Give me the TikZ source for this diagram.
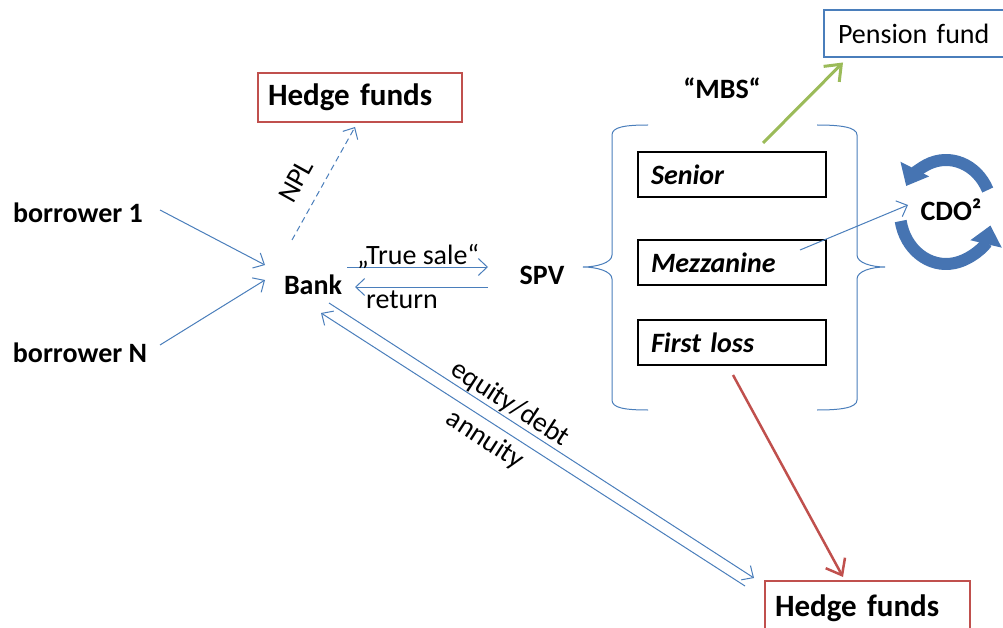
\documentclass[tikz,border=0pt]{standalone}
\usepackage{fontspec}
\setmainfont{Carlito}
\usetikzlibrary{arrows.meta}
\definecolor{lblue}{RGB}{74,126,187}
\definecolor{dred}{RGB}{192,80,77}
\definecolor{lgreen}{RGB}{155,187,89}
\definecolor{cdoblue}{RGB}{70,116,178}
\begin{document}
\begin{tikzpicture}[x=1pt,y=-1pt,
  font=\fontsize{28}{34}\selectfont,
  lbl/.style={inner sep=0pt},
  bold/.style={inner sep=0pt, font=\fontsize{28}{34}\selectfont\bfseries},
  flow/.style={lblue, line width=1pt, -{Straight Barb[length=9pt,width=17pt]}},
  npl/.style={flow, dash pattern=on 6pt off 4pt},
  redbox/.style={draw=dred, line width=2.5pt, inner xsep=10pt, inner ysep=0pt, align=left,
     font=\fontsize{31}{36}\selectfont\bfseries},
  bluebox/.style={draw=lblue, line width=2.5pt, inner xsep=14pt, inner ysep=0pt, align=left},
  tranche/.style={draw=black, line width=2.5pt, minimum width=188pt, minimum height=45pt,
     text width=162pt, inner xsep=13pt, inner ysep=0pt, align=left,
     font=\fontsize{28}{34}\selectfont\bfseries\itshape},
  brace/.style={lblue, line width=1pt},
  bigred/.style={dred, line width=2.5pt, -{Straight Barb[length=14pt,width=22pt]}},
  biggreen/.style={lgreen, line width=3pt, -{Straight Barb[length=14pt,width=22pt]}},
  cdoarrow/.style={cdoblue, line width=12pt, -{Triangle[length=19pt,width=31pt]}}
]
\useasboundingbox (0,0) rectangle (1003,628);
\clip (0,0) rectangle (1003,628);

% nodes
\node[bold] (b1) at (78,213) {borrower 1};
\node[bold] (bN) at (80,353) {borrower N};
\node[bold] (bank) at (313,285) {Bank};
\node[bold] (spv) at (542,275) {SPV};
\node[redbox, minimum width=204pt, minimum height=49pt, text width=184pt] (hf1) at (360,97.5) {Hedge funds};
\node[redbox, minimum width=205pt, minimum height=54pt, text width=185pt] (hf2) at (867.5,608) {Hedge funds};
\node[bluebox, minimum width=191pt, minimum height=47pt, text width=163pt] (pf) at (919.5,33.5) {Pension fund};
\node[bold] (mbs) at (722,88) {“MBS“};
\node[tranche] (sen) at (732,174.5) {Senior};
\node[tranche] (mez) at (732,262.5) {Mezzanine};
\node[tranche] (fl) at (732,342.5) {First loss};
\node[bold] (cdo) at (951,210) {CDO²};

% braces
\draw[brace] (648,125) .. controls (625,125) and (612,127) .. (612,135) -- (612,255)
  .. controls (612,263) and (596,267) .. (583,267)
  .. controls (596,267) and (612,271) .. (612,279) -- (612,400)
  .. controls (612,408) and (625,410) .. (648,410);
\draw[brace] (817,125) .. controls (840,125) and (857,127) .. (857,135) -- (857,255)
  .. controls (857,263) and (872,267) .. (885,267)
  .. controls (872,267) and (857,271) .. (857,279) -- (857,400)
  .. controls (857,408) and (840,410) .. (817,410);

% connectors
\draw[flow] ([shift={(82,-3)}]b1.center) -- ([shift={(-48,-20)}]bank.center);
\draw[flow] ([shift={(80,-8)}]bN.center) -- ([shift={(-48,-5)}]bank.center);
\draw[npl] ([shift={(-21,-45)}]bank.center) -- ([shift={(-5,29.5)}]hf1.center);
\draw[flow] ([shift={(34,-18)}]bank.center) -- ([shift={(-54,-8)}]spv.center);
\draw[flow] ([shift={(-54,12)}]spv.center) -- ([shift={(42,2)}]bank.center);
\draw[flow] ([shift={(16,18)}]bank.center) -- ([shift={(-113.5,-30)}]hf2.center);
\draw[flow] ([shift={(-122.5,-22)}]hf2.center) -- ([shift={(8,28)}]bank.center);
\draw[bigred] ([shift={(1,32.5)}]fl.center) -- ([shift={(-24.5,-31)}]hf2.center);
\draw[biggreen] ([shift={(31,-31.5)}]sen.center) -- ([shift={(-76.5,29)}]pf.center);
\draw[flow] ([shift={(68,-12.5)}]mez.center) -- ([shift={(-43,-5)}]cdo.center);

% labels
\node[lbl, rotate=61] (lnpl) at (296,181) {NPL};
\node[lbl] (ltrue) at (418,257) {„True sale“};
\node[lbl] (lret) at (402,300) {return};
\node[lbl, rotate=-33] (leq) at (510,404) {equity/debt};
\node[lbl, rotate=-33] (lann) at (485,440) {annuity};

% CDO circular arrows
\draw[cdoarrow] (946,212) ++(-25:46 and 52) arc[start angle=-25, end angle=-150, x radius=46, y radius=52];
\draw[cdoarrow] (946,212) ++(-190:46 and 52) arc[start angle=-190, end angle=-345, x radius=46, y radius=52];
\end{tikzpicture}
\end{document}
